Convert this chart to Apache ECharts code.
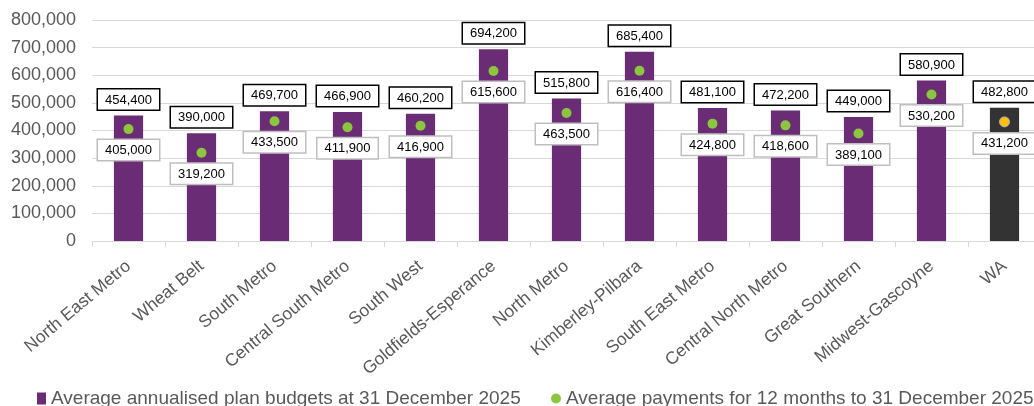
<!DOCTYPE html>
<html><head><meta charset="utf-8">
<script src="https://cdn.jsdelivr.net/npm/echarts@6/dist/echarts.min.js"></script>
<style>html,body{margin:0;padding:0;background:#fff;overflow:hidden}#c{width:1034px;height:406px}</style>
</head><body><div id="c"></div>
<script>
const categories = ["North East Metro","Wheat Belt","South Metro","Central South Metro","South West","Goldfields-Esperance","North Metro","Kimberley-Pilbara","South East Metro","Central North Metro","Great Southern","Midwest-Gascoyne","WA"];
const budgets = [454400,390000,469700,466900,460200,694200,515800,685400,481100,472200,449000,580900,482800];
const payments = [405000,319200,433500,411900,416900,615600,463500,616400,424800,418600,389100,530200,431200];
const yTicks = [0,100000,200000,300000,400000,500000,600000,700000,800000];

const PURPLE = '#6a2c74', DARK = '#333333', GREEN = '#8cc63f', ORANGE = '#ffc000';
const fmt = v => v.toLocaleString('en-US');
const font = 'Liberation Sans, Arial, sans-serif';
const NAME_B = 'Average annualised plan budgets at 31 December 2025';
const NAME_P = 'Average payments for 12 months to 31 December 2025';

const legendText = { fontSize: 19, color: '#595959', fontFamily: font };
const chart = echarts.init(document.getElementById('c'));
chart.setOption({
  animation: false,
  textStyle: { fontFamily: font },
  grid: { left: 92, width: 949, top: 20, bottom: 165, outerBoundsMode: 'none', containLabel: false },
  legend: [
    { left: 32, top: 384, itemWidth: 9, itemHeight: 12, textStyle: legendText,
      data: [{ name: NAME_B, icon: 'rect', itemStyle: { color: PURPLE } }] },
    { left: 546, top: 384, itemWidth: 10, itemHeight: 10, textStyle: legendText,
      data: [{ name: NAME_P, icon: 'circle', itemStyle: { color: GREEN } }] }
  ],
  xAxis: {
    type: 'category', data: categories,
    axisLine: { lineStyle: { color: '#d9d9d9' } },
    axisTick: { show: true, length: 6, lineStyle: { color: '#d9d9d9' } },
    axisLabel: { rotate: 40, fontSize: 17.5, color: '#595959', margin: 23, interval: 0, fontFamily: font }
  },
  yAxis: {
    type: 'value', min: 0, max: 800000, interval: 100000,
    axisLine: { show: false }, axisTick: { show: false },
    splitLine: { lineStyle: { color: '#d9d9d9', width: 1 } },
    axisLabel: { fontSize: 18, color: '#595959', margin: 16, fontFamily: font,
      formatter: v => yTicks.includes(v) ? fmt(v) : '' }
  },
  series: [
    {
      name: NAME_B,
      type: 'bar', barWidth: '40%',
      data: budgets.map((v, i) => i === budgets.length - 1 ? { value: v, itemStyle: { color: DARK } } : v),
      itemStyle: { color: PURPLE },
      label: {
        show: true, position: 'top', distance: 6, formatter: p => fmt(p.value),
        fontSize: 13, color: '#000', backgroundColor: '#fff',
        borderColor: '#000', borderWidth: 1.5, padding: [4, 7, 3, 7], fontFamily: font
      },
      z: 2
    },
    {
      name: NAME_P,
      type: 'scatter', symbol: 'circle', symbolSize: 10,
      data: payments.map((v, i) => i === payments.length - 1 ? { value: v, itemStyle: { color: ORANGE, borderColor: '#b4a7d6', borderWidth: 1, opacity: 1 } } : v),
      itemStyle: { color: GREEN, opacity: 1 },
      label: {
        show: true, position: 'bottom', distance: 6, formatter: p => fmt(p.value),
        fontSize: 13, color: '#000', backgroundColor: '#fff',
        borderColor: '#bfbfbf', borderWidth: 1.5, padding: [4, 7, 3, 7], fontFamily: font
      },
      z: 3
    }
  ]
});
</script></body></html>
